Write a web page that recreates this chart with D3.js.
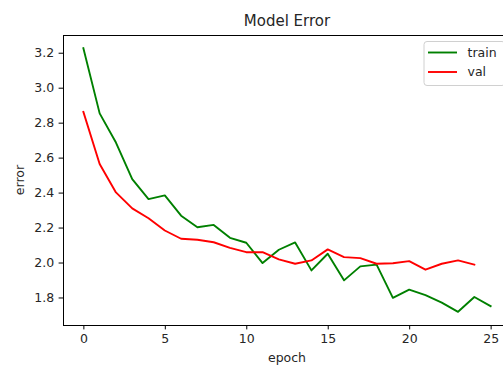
<!DOCTYPE html>
<html>
<head>
<meta charset="utf-8">
<script src="https://cdn.jsdelivr.net/npm/d3@7"></script>
<style>
  body { margin: 0; background: #fff; }
  svg { display: block; overflow: hidden; }
  text { font-family: "DejaVu Sans", sans-serif; fill: #262626; }
  .axis path, .axis line { stroke: #000; stroke-width: 1; }
  .line { fill: none; stroke-width: 1.9; stroke-linejoin: round; stroke-linecap: square; }
</style>
</head>
<body>
<div id="chart"></div>
<script>
// values
var epochs = d3.range(0, 26);
var trainError = [3.226, 2.853, 2.686, 2.477, 2.363, 2.384, 2.268, 2.202, 2.215, 2.141,
                  2.113, 1.997, 2.073, 2.115, 1.955, 2.050, 1.898, 1.978, 1.988, 1.798,
                  1.845, 1.813, 1.771, 1.718, 1.803, 1.750];
var valError = [2.862, 2.563, 2.401, 2.310, 2.253, 2.183, 2.136, 2.130, 2.116, 2.084,
                2.059, 2.059, 2.018, 1.993, 2.012, 2.075, 2.031, 2.025, 1.993, 1.996,
                2.008, 1.959, 1.993, 2.012, 1.988];
var xTicks = [0, 5, 10, 15, 20, 25];
var yTicks = [1.8, 2.0, 2.2, 2.4, 2.6, 2.8, 3.0, 3.2];
var seriesNames = ["train", "val"];
var seriesColors = ["#008000", "#ff0000"];

var trainData = trainError.map(function(v, i) { return {epoch: epochs[i], err: v}; });
var valData = valError.map(function(v, i) { return {epoch: epochs[i], err: v}; });

// margin convention, right side runs past the window like the screenshot
var margin = {top: 35, right: -8, bottom: 40, left: 63}
  , width = 503 - margin.left - margin.right
  , height = 365 - margin.top - margin.bottom;

// matplotlib style 5% padding on the data limits
var xExt = d3.extent(epochs);
var xPad = (xExt[1] - xExt[0]) * 0.05;
var allErr = trainError.concat(valError);
var yExt = d3.extent(allErr);
var yPad = (yExt[1] - yExt[0]) * 0.05;

var xScale = d3.scaleLinear()
    .domain([xExt[0] - xPad, xExt[1] + xPad])
    .range([0, width]);

var yScale = d3.scaleLinear()
    .domain([yExt[0] - yPad, yExt[1] + yPad])
    .range([height, 0]);

var line = d3.line()
    .x(function(d) { return xScale(d.epoch); })
    .y(function(d) { return yScale(d.err); });

var svg = d3.select("#chart").append("svg")
    .attr("width", 503)
    .attr("height", 365)
    .append("g")
    .attr("transform", "translate(" + margin.left + "," + margin.top + ")");

// x axis
svg.append("g")
    .attr("class", "x axis")
    .attr("transform", "translate(0," + height + ")")
    .call(d3.axisBottom(xScale).tickValues(xTicks).tickSize(4.4).tickPadding(4.4).tickSizeOuter(0))
    .call(function(g) { g.select(".domain").remove(); })
    .selectAll("text")
    .style("font-size", "12.5px")
    .style("font-family", "DejaVu Sans, sans-serif")
    .attr("fill", "#262626");

// y axis
svg.append("g")
    .attr("class", "y axis")
    .call(d3.axisLeft(yScale).tickValues(yTicks).tickFormat(d3.format(".1f")).tickSize(4.4).tickPadding(4.4).tickSizeOuter(0))
    .call(function(g) { g.select(".domain").remove(); })
    .selectAll("text")
    .style("font-size", "12.5px")
    .style("font-family", "DejaVu Sans, sans-serif")
    .attr("fill", "#262626");

// the frame (spines)
svg.append("rect")
    .attr("x", 0)
    .attr("y", 0)
    .attr("width", width)
    .attr("height", height)
    .attr("fill", "none")
    .attr("stroke", "#000")
    .attr("stroke-width", 1)
    .attr("shape-rendering", "crispEdges");

// lines
svg.append("path")
    .datum(trainData)
    .attr("class", "line")
    .attr("stroke", seriesColors[0])
    .attr("d", line);

svg.append("path")
    .datum(valData)
    .attr("class", "line")
    .attr("stroke", seriesColors[1])
    .attr("d", line);

// title and labels
svg.append("text")
    .attr("x", width / 2)
    .attr("y", -9)
    .attr("text-anchor", "middle")
    .style("font-size", "15px")
    .text("Model Error");

svg.append("text")
    .attr("x", width / 2)
    .attr("y", height + 37)
    .attr("text-anchor", "middle")
    .style("font-size", "12.5px")
    .text("epoch");

svg.append("text")
    .attr("transform", "translate(" + (-39) + "," + (height / 2) + ") rotate(-90)")
    .attr("text-anchor", "middle")
    .style("font-size", "12.5px")
    .text("error");

// legend, upper right
var legend = svg.append("g")
    .attr("transform", "translate(" + (width - 87) + ",6.5)");

legend.append("rect")
    .attr("width", 81)
    .attr("height", 44)
    .attr("rx", 3)
    .attr("fill", "#fff")
    .attr("fill-opacity", 0.8)
    .attr("stroke", "#d0d0d0")
    .attr("stroke-width", 1);

legend.selectAll(".item")
    .data(seriesNames)
    .enter().append("g")
    .attr("class", "item")
    .attr("transform", function(d, i) { return "translate(0," + (11 + i * 19.5) + ")"; })
    .each(function(d, i) {
      var g = d3.select(this);
      g.append("line")
          .attr("x1", 4)
          .attr("x2", 33)
          .attr("stroke", seriesColors[i])
          .attr("stroke-width", 1.9);
      g.append("text")
          .attr("x", 43.5)
          .attr("dy", "0.35em")
          .style("font-size", "12.5px")
          .text(d);
    });
</script>
</body>
</html>
